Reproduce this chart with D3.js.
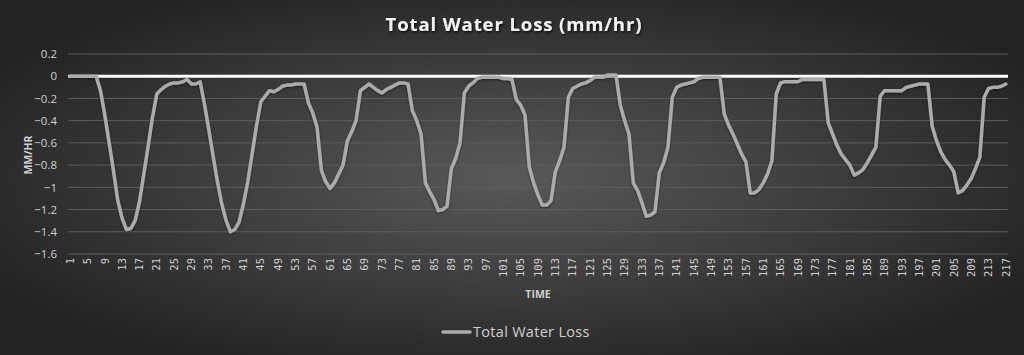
<!DOCTYPE html>
<html><head><meta charset="utf-8">
<script src="https://cdn.jsdelivr.net/npm/d3@7/dist/d3.min.js"></script>
<style>
html,body{margin:0;padding:0;background:#333;}
svg{display:block;}
</style></head>
<body>
<svg id="chart" width="1024" height="355"></svg>
<script>
const categories = d3.range(1, 218);
const waterLoss = [
 0,0,0,0,0,0,0,-0.13,-0.35,-0.6,-0.85,-1.12,-1.28,-1.38,-1.37,-1.3,-1.13,-0.88,-0.63,-0.37,
 -0.16,-0.12,-0.09,-0.07,-0.06,-0.06,-0.05,-0.03,-0.07,-0.07,-0.05,-0.25,-0.48,-0.72,-0.95,-1.15,-1.3,-1.4,-1.38,-1.31,
 -1.15,-0.95,-0.7,-0.45,-0.23,-0.18,-0.13,-0.14,-0.12,-0.09,-0.08,-0.08,-0.07,-0.07,-0.07,-0.24,-0.33,-0.46,-0.85,-0.95,
 -1.01,-0.96,-0.88,-0.8,-0.58,-0.5,-0.4,-0.13,-0.1,-0.07,-0.1,-0.13,-0.15,-0.12,-0.1,-0.08,-0.06,-0.06,-0.07,-0.31,
 -0.4,-0.52,-0.96,-1.04,-1.11,-1.21,-1.2,-1.17,-0.83,-0.74,-0.6,-0.15,-0.09,-0.06,-0.02,-0.01,-0.01,-0.01,-0.01,-0.01,
 -0.02,-0.02,-0.03,-0.21,-0.26,-0.35,-0.82,-0.96,-1.07,-1.16,-1.16,-1.12,-0.86,-0.76,-0.64,-0.19,-0.11,-0.09,-0.07,-0.06,
 -0.04,-0.01,-0.01,-0.01,0.01,0.01,0.01,-0.26,-0.4,-0.52,-0.96,-1.03,-1.14,-1.26,-1.25,-1.22,-0.87,-0.78,-0.64,-0.19,
 -0.1,-0.08,-0.07,-0.06,-0.05,-0.02,-0.01,-0.01,-0.01,-0.01,-0.01,-0.34,-0.44,-0.52,-0.61,-0.7,-0.77,-1.05,-1.05,-1.02,
 -0.96,-0.88,-0.76,-0.16,-0.06,-0.05,-0.05,-0.05,-0.05,-0.03,-0.03,-0.03,-0.03,-0.03,-0.03,-0.42,-0.52,-0.62,-0.7,-0.75,
 -0.8,-0.89,-0.87,-0.84,-0.78,-0.71,-0.64,-0.18,-0.13,-0.13,-0.13,-0.13,-0.13,-0.1,-0.09,-0.08,-0.07,-0.07,-0.07,-0.45,
 -0.58,-0.68,-0.75,-0.8,-0.86,-1.05,-1.03,-0.98,-0.92,-0.83,-0.73,-0.19,-0.11,-0.1,-0.1,-0.09,-0.07
];
const yTicks = [0.2, 0, -0.2, -0.4, -0.6, -0.8, -1, -1.2, -1.4, -1.6];
const xTickLabels = categories.filter(c => (c - 1) % 4 === 0);

const svg = d3.select("#chart");
const W = 1024, H = 355;
const defs = svg.append("defs");
const rg = defs.append("radialGradient").attr("id", "bg")
  .attr("cx", "50%").attr("cy", "50%").attr("r", "60%");
rg.append("stop").attr("offset", "0%").attr("stop-color", "#595959");
rg.append("stop").attr("offset", "100%").attr("stop-color", "#222222");
const sh = defs.append("filter").attr("id", "ts").attr("x", "-10%").attr("y", "-30%").attr("width", "120%").attr("height", "160%");
sh.append("feDropShadow").attr("dx", 1).attr("dy", 1.5).attr("stdDeviation", 1.2).attr("flood-color", "#000").attr("flood-opacity", 0.8);
const ls = defs.append("filter").attr("id", "ls").attr("x", "-5%").attr("y", "-5%").attr("width", "110%").attr("height", "110%");
ls.append("feDropShadow").attr("dx", 0).attr("dy", 1).attr("stdDeviation", 1).attr("flood-color", "#000").attr("flood-opacity", 0.45);

svg.append("rect").attr("width", W).attr("height", H).attr("fill", "url(#bg)");

const x = d3.scaleBand().domain(categories).range([68, 1008]).padding(0);
const xc = d => x(d) + x.bandwidth() / 2;
const y = d3.scaleLinear().domain([-1.6, 0.2]).range([254, 54]);

// gridlines
svg.append("g").selectAll("line").data(yTicks.filter(t => t !== 0)).join("line")
  .attr("x1", 68).attr("x2", 1008)
  .attr("y1", d => y(d)).attr("y2", d => y(d))
  .attr("stroke", "#5e5e5e").attr("stroke-width", 1);

// y axis labels
const yAxis = d3.axisLeft(y).tickValues(yTicks).tickSize(0).tickPadding(0)
  .tickFormat(d => d3.format("")(+d.toFixed(1)));
const gy = svg.append("g").attr("transform", "translate(57,0)").call(yAxis);
gy.select(".domain").remove();
gy.selectAll("text").attr("fill", "#d0d0d0").attr("font-family", "Open Sans, sans-serif").attr("font-size", 11.5);

// zero line
svg.append("line").attr("x1", 68).attr("x2", 1008).attr("y1", y(0)).attr("y2", y(0))
  .attr("stroke", "#ffffff").attr("stroke-width", 3);

// x axis labels
const xAxis = d3.axisBottom(x).tickValues(xTickLabels).tickSize(0).tickPadding(0);
const gx = svg.append("g").attr("transform", "translate(0,258)").call(xAxis);
gx.select(".domain").remove();
gx.selectAll("text")
  .attr("fill", "#d0d0d0").attr("font-family", "DejaVu Sans Mono, monospace").attr("font-size", 10.5)
  .attr("text-anchor", "end").attr("dy", "0.35em").attr("dx", 0)
  .attr("transform", "rotate(-90)").attr("x", 0).attr("y", 0);
gx.selectAll(".tick").attr("transform", d => `translate(${xc(d)},0)`);

// line
const line = d3.line().x((d, i) => xc(categories[i])).y(d => y(d)).curve(d3.curveLinear);
svg.append("path").datum(waterLoss).attr("d", line)
  .attr("fill", "none").attr("stroke", "#ababab").attr("stroke-width", 3.5)
  .attr("stroke-linejoin", "round").attr("stroke-linecap", "round").attr("filter", "url(#ls)");

// title
svg.append("text").attr("x", 514).attr("y", 31).attr("text-anchor", "middle")
  .attr("font-family", "Open Sans, sans-serif").attr("font-weight", 700).attr("font-size", 18.5)
  .attr("fill", "#f2f2f2").attr("filter", "url(#ts)").attr("letter-spacing", 0.9)
  .text("Total Water Loss (mm/hr)");

// axis titles
svg.append("text").attr("transform", "translate(32,155) rotate(-90)").attr("text-anchor", "middle")
  .attr("font-family", "Open Sans, sans-serif").attr("font-weight", 700).attr("font-size", 10.5)
  .attr("fill", "#d0d0d0").text("MM/HR");
svg.append("text").attr("x", 538).attr("y", 298).attr("text-anchor", "middle")
  .attr("font-family", "Open Sans, sans-serif").attr("font-weight", 700).attr("font-size", 10.5)
  .attr("fill", "#d0d0d0").text("TIME");

// legend
svg.append("line").attr("x1", 443).attr("x2", 470).attr("y1", 332).attr("y2", 332)
  .attr("stroke", "#ababab").attr("stroke-width", 3.5).attr("stroke-linecap", "round");
svg.append("text").attr("x", 473).attr("y", 337)
  .attr("font-family", "Open Sans, sans-serif").attr("font-size", 14.5).attr("letter-spacing", 0.3)
  .attr("fill", "#d0d0d0").text("Total Water Loss");
</script>
</body></html>
